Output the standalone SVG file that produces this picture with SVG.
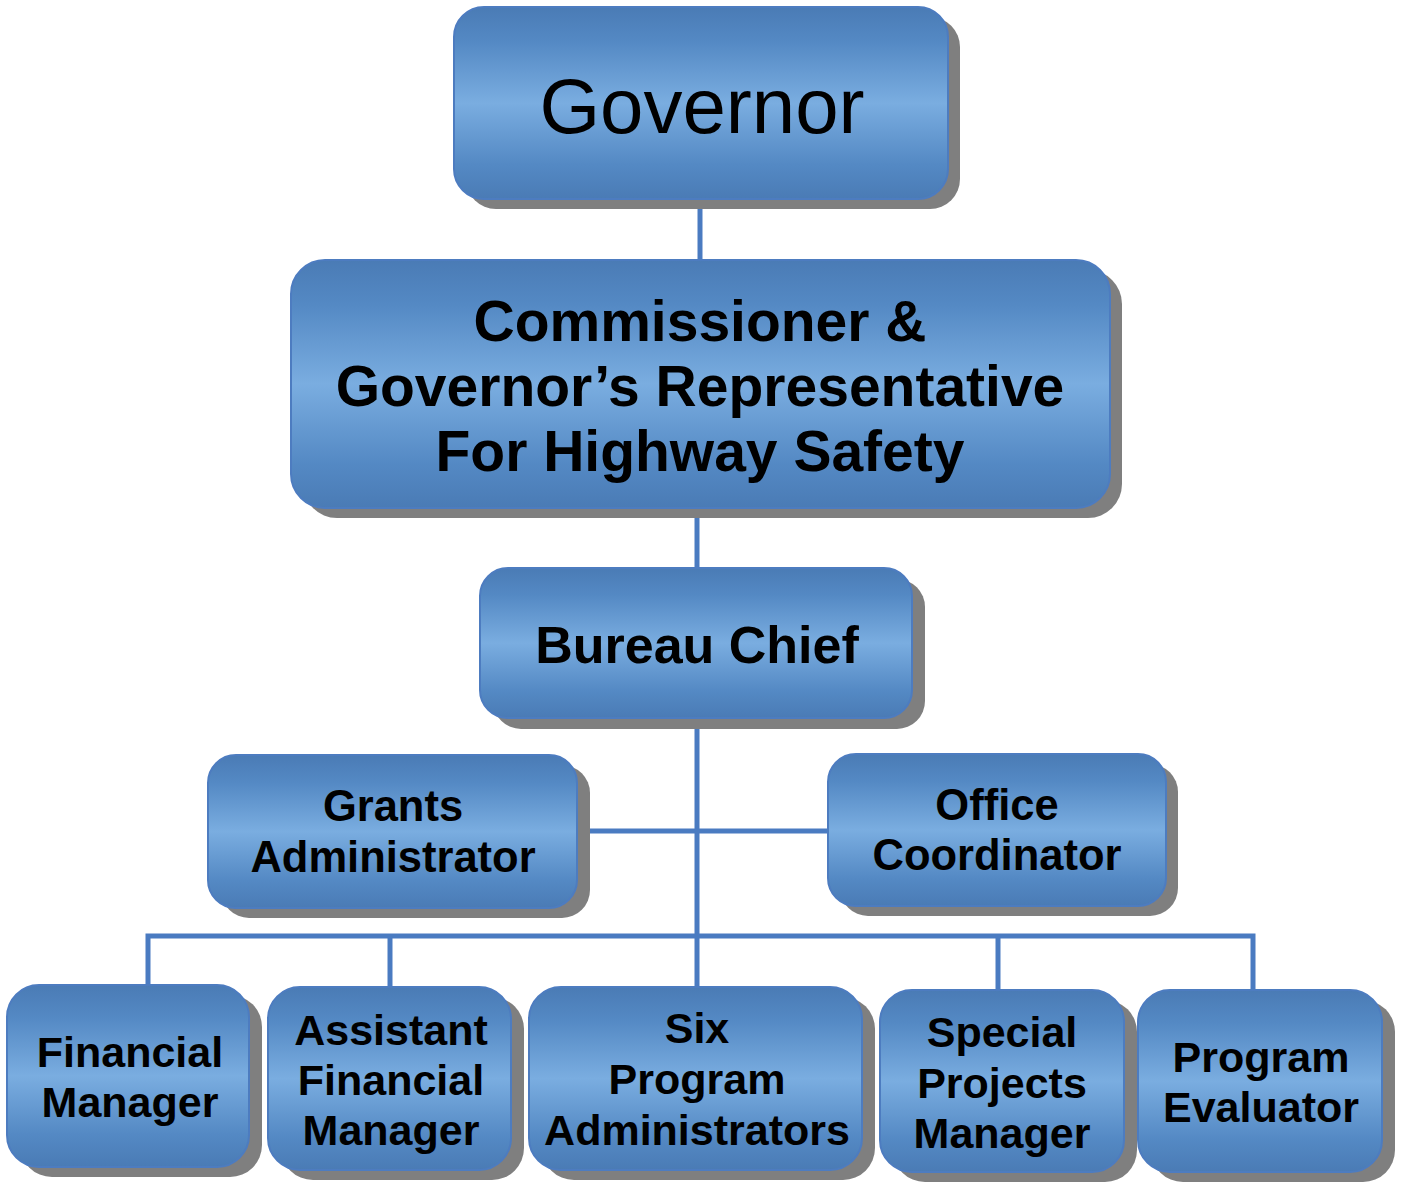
<svg xmlns="http://www.w3.org/2000/svg" width="1405" height="1183" viewBox="0 0 1405 1183">
<defs>
<linearGradient id="g" x1="0" y1="0" x2="0" y2="1">
<stop offset="0" stop-color="#4a7bb5"/>
<stop offset="0.18" stop-color="#5489c4"/>
<stop offset="0.5" stop-color="#7aade0"/>
<stop offset="0.82" stop-color="#5489c4"/>
<stop offset="1" stop-color="#4a7bb5"/>
</linearGradient>
</defs>
<style>
.sh{fill:#7f7f7f}
.bx{fill:url(#g);stroke:#4d7cc0;stroke-width:2}
.t{font-family:"Liberation Sans",Arial,sans-serif;font-weight:bold;fill:#000;text-anchor:middle}
.c{stroke:#4a7bc1;stroke-width:5;fill:none}
</style>
<rect width="1405" height="1183" fill="#fff"/>
<g id="connectors">
<line class="c" x1="700" y1="199" x2="700" y2="262"/>
<line class="c" x1="697" y1="508" x2="697" y2="570"/>
<line class="c" x1="697" y1="718" x2="697" y2="989"/>
<line class="c" x1="577" y1="831" x2="830" y2="831"/>
<polyline class="c" points="148,987 148,936 1253,936 1253,992"/>
<line class="c" x1="390" y1="936" x2="390" y2="989"/>
<line class="c" x1="998" y1="936" x2="998" y2="992"/>
</g>
<g id="governor">
<rect class="sh" x="466" y="17" width="494" height="192" rx="30"/>
<rect class="bx" x="454" y="7" width="494" height="192" rx="30"/>
<text x="702" y="133" font-family="Liberation Sans, Arial, sans-serif" font-size="78" text-anchor="middle">Governor</text>
</g>
<g id="commissioner">
<rect class="sh" x="303" y="270" width="819" height="248" rx="34"/>
<rect class="bx" x="291" y="260" width="819" height="248" rx="34"/>
<text class="t" font-size="57"><tspan x="700" y="341">Commissioner &amp;</tspan><tspan x="700" y="406">Governor’s Representative</tspan><tspan x="700" y="471">For Highway Safety</tspan></text>
</g>
<g id="bureau-chief">
<rect class="sh" x="493" y="579" width="432" height="150" rx="28"/>
<rect class="bx" x="480" y="568" width="432" height="150" rx="28"/>
<text class="t" font-size="52" x="697" y="663">Bureau Chief</text>
</g>
<g id="grants-administrator">
<rect class="sh" x="221" y="765" width="369" height="153" rx="28"/>
<rect class="bx" x="208" y="755" width="369" height="153" rx="28"/>
<text class="t" font-size="43.5"><tspan x="393" y="821">Grants</tspan><tspan x="393" y="872">Administrator</tspan></text>
</g>
<g id="office-coordinator">
<rect class="sh" x="840" y="764" width="338" height="152" rx="28"/>
<rect class="bx" x="828" y="754" width="338" height="152" rx="28"/>
<text class="t" font-size="43.5"><tspan x="997" y="820">Office</tspan><tspan x="997" y="870">Coordinator</tspan></text>
</g>
<g id="financial-manager">
<rect class="sh" x="20" y="995" width="242" height="182" rx="32"/>
<rect class="bx" x="7" y="985" width="242" height="182" rx="32"/>
<text class="t" font-size="43"><tspan x="130" y="1067">Financial</tspan><tspan x="130" y="1117">Manager</tspan></text>
</g>
<g id="assistant-financial-manager">
<rect class="sh" x="281" y="997" width="243" height="183" rx="32"/>
<rect class="bx" x="268" y="987" width="243" height="183" rx="32"/>
<text class="t" font-size="43"><tspan x="391" y="1045">Assistant</tspan><tspan x="391" y="1095">Financial</tspan><tspan x="391" y="1145">Manager</tspan></text>
</g>
<g id="six-program-administrators">
<rect class="sh" x="542" y="997" width="333" height="183" rx="32"/>
<rect class="bx" x="529" y="987" width="333" height="183" rx="32"/>
<text class="t" font-size="43"><tspan x="697" y="1043">Six</tspan><tspan x="697" y="1094">Program</tspan><tspan x="697" y="1145">Administrators</tspan></text>
</g>
<g id="special-projects-manager">
<rect class="sh" x="893" y="1000" width="244" height="182" rx="32"/>
<rect class="bx" x="880" y="990" width="244" height="182" rx="32"/>
<text class="t" font-size="43"><tspan x="1002" y="1047">Special</tspan><tspan x="1002" y="1098">Projects</tspan><tspan x="1002" y="1148">Manager</tspan></text>
</g>
<g id="program-evaluator">
<rect class="sh" x="1151" y="1000" width="244" height="182" rx="32"/>
<rect class="bx" x="1138" y="990" width="244" height="182" rx="32"/>
<text class="t" font-size="43"><tspan x="1261" y="1072">Program</tspan><tspan x="1261" y="1122">Evaluator</tspan></text>
</g>
</svg>
